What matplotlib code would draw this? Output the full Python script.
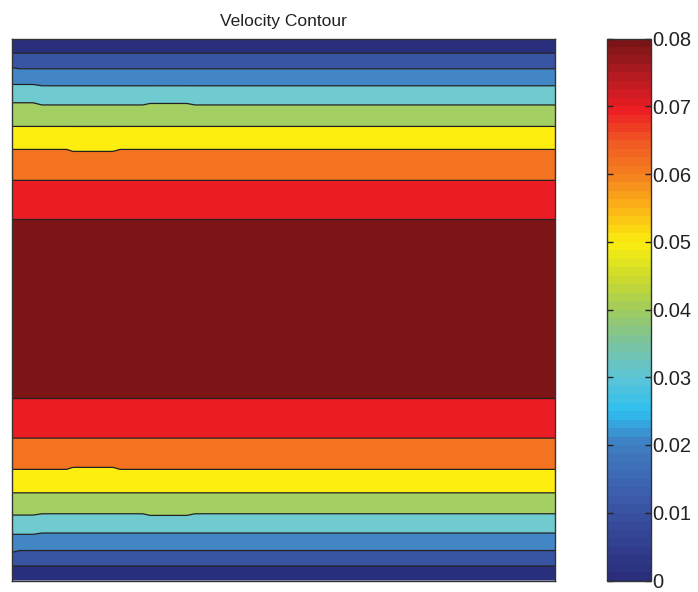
import numpy as np
import matplotlib
matplotlib.use('Agg')
import matplotlib.pyplot as plt
from matplotlib.colors import LinearSegmentedColormap, Normalize
from matplotlib.cm import ScalarMappable

plt.rcParams['font.family'] = ['Liberation Sans', 'DejaVu Sans']

# contour levels (velocity) and the colour of each filled band
levels = [0.01, 0.02, 0.03, 0.04, 0.05, 0.06, 0.07, 0.08]
u_max = 0.085
band_colors = ['#2a2f7d', '#3a54a4', '#4386c6', '#6fcbd0', '#a3cf63',
               '#fdee10', '#f37321', '#ec1c24', '#7d1416']

# x stations (fraction of channel length) where the contour lines bend
x_st = [0.0, 0.015, 0.039, 0.055, 0.101, 0.112, 0.186, 0.199, 0.241, 0.254, 0.322, 0.337, 1.0]

# contour positions (fraction of channel height) near the lower wall, one row per level
lower_y = [
    [0.0267] * 13,
    [0.0520, 0.0553, 0.0553, 0.0553, 0.0553, 0.0553, 0.0553, 0.0553, 0.0553, 0.0553, 0.0553, 0.0553, 0.0553],
    [0.0852, 0.0852, 0.0852, 0.0876, 0.0876, 0.0876, 0.0876, 0.0876, 0.0876, 0.0876, 0.0876, 0.0876, 0.0876],
    [0.1207, 0.1207, 0.1207, 0.1231, 0.1231, 0.1231, 0.1231, 0.1231, 0.1231, 0.1201, 0.1201, 0.1231, 0.1231],
    [0.1618] * 13,
    [0.2050, 0.2050, 0.2050, 0.2050, 0.2050, 0.2087, 0.2087, 0.2050, 0.2050, 0.2050, 0.2050, 0.2050, 0.2050],
    [0.2627] * 13,
    [0.3364] * 13,
]

# contour positions near the upper wall, same level order
upper_y = [
    [0.9729] * 13,
    [0.9460, 0.9441, 0.9441, 0.9441, 0.9441, 0.9441, 0.9441, 0.9441, 0.9441, 0.9441, 0.9441, 0.9441, 0.9441],
    [0.9152, 0.9152, 0.9152, 0.9128, 0.9128, 0.9128, 0.9128, 0.9128, 0.9128, 0.9128, 0.9128, 0.9128, 0.9128],
    [0.8815, 0.8815, 0.8815, 0.8774, 0.8774, 0.8774, 0.8774, 0.8774, 0.8774, 0.8802, 0.8802, 0.8774, 0.8774],
    [0.8378] * 13,
    [0.7954, 0.7954, 0.7954, 0.7954, 0.7954, 0.7917, 0.7917, 0.7954, 0.7954, 0.7954, 0.7954, 0.7954, 0.7954],
    [0.7383] * 13,
    [0.6664] * 13,
]

cbar_ticks = [0, 0.01, 0.02, 0.03, 0.04, 0.05, 0.06, 0.07, 0.08]
cbar_nodes = [0.0, 0.125, 0.25, 0.31, 0.375, 0.44, 0.5, 0.5625, 0.625, 0.6875, 0.75, 0.8125, 0.875, 0.9375, 1.0]
cbar_colors = ['#2a2e7c', '#3a53a4', '#3f7fc2', '#2fbff0', '#5ec5d5', '#7cc39c', '#a0cc5c',
               '#cfdb2a', '#fbee10', '#fbb616', '#f5821f', '#f15a24', '#ed1c24', '#b41b21', '#7a1416']


def build_field(nx=400, ny=1200):
    # velocity field rebuilt from the contour positions
    xs = np.linspace(0, 1, nx)
    ys = np.linspace(0, 1, ny)
    lo = np.array(lower_y)
    up = np.array(upper_y)
    u = np.zeros((ny, nx))
    for j, x in enumerate(xs):
        lo_pos = [np.interp(x, x_st, row) for row in lo]
        up_pos = [np.interp(x, x_st, row) for row in up]
        yk = [0.0] + lo_pos + [0.5] + up_pos[::-1] + [1.0]
        uk = [0.0] + levels + [u_max] + levels[::-1] + [0.0]
        u[:, j] = np.interp(ys, yk, uk)
    return xs, ys, u


def main():
    xs, ys, u = build_field()

    fig = plt.figure(figsize=(6.98, 5.92), dpi=100)
    ax = fig.add_axes([12 / 698, 1 - 580.5 / 592, 543 / 698, 542 / 592])
    cax = fig.add_axes([607 / 698, 1 - 580.5 / 592, 44 / 698, 542 / 592])

    fill_levels = [0.0] + levels + [0.1]
    ax.contourf(xs, ys, u, levels=fill_levels, colors=band_colors, antialiased=True)
    ax.contour(xs, ys, u, levels=levels, colors='#222222', linewidths=0.9)
    ax.set_xlim(0, 1)
    ax.set_ylim(0, 1)
    ax.set_xticks([])
    ax.set_yticks([])
    for sp in ax.spines.values():
        sp.set_color('#333333')
        sp.set_linewidth(1.0)
    ax.set_title('Velocity Contour', fontsize=12.5, color='#222222', pad=9)

    cmap = LinearSegmentedColormap.from_list('vel', list(zip(cbar_nodes, cbar_colors)), N=64)
    sm = ScalarMappable(norm=Normalize(0, 0.08), cmap=cmap)
    cb = fig.colorbar(sm, cax=cax, ticks=cbar_ticks)
    cb.ax.set_yticklabels(['0' if t == 0 else f'{t:.2f}' for t in cbar_ticks])
    cax.tick_params(direction='in', left=True, right=True, length=4, width=1.0,
                    labelsize=14.5, colors='#222222', pad=1)
    cb.outline.set_edgecolor('#333333')
    cb.outline.set_linewidth(1.0)

    fig.savefig('out.png', dpi=100)


if __name__ == '__main__':
    main()
